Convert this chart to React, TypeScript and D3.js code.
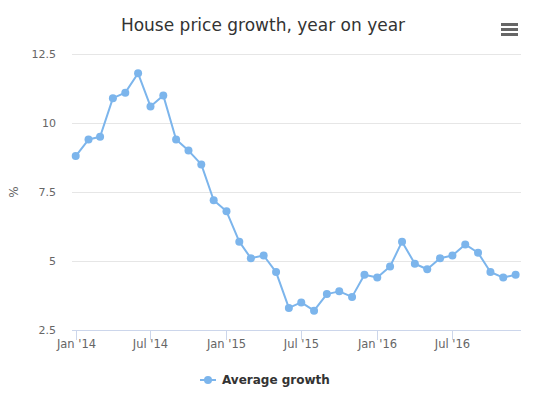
import React from "react";
import * as d3 from "d3";

const title = "House price growth, year on year";
const seriesName = "Average growth";
const startYear = 2014;
const values = [
  8.8, 9.4, 9.5, 10.9, 11.1, 11.8, 10.6, 11.0, 9.4, 9.0, 8.5, 7.2,
  6.8, 5.7, 5.1, 5.2, 4.6, 3.3, 3.5, 3.2, 3.8, 3.9, 3.7, 4.5,
  4.4, 4.8, 5.7, 4.9, 4.7, 5.1, 5.2, 5.6, 5.3, 4.6, 4.4, 4.5,
];
const yTicks = [2.5, 5, 7.5, 10, 12.5];
const xTickLabels = ["Jan '14", "Jul '14", "Jan '15", "Jul '15", "Jan '16", "Jul '16"];
const xTickDates = [
  [2014, 0], [2014, 6], [2015, 0], [2015, 6], [2016, 0], [2016, 6],
];

const FONT = "'DejaVu Sans', Verdana, sans-serif";
const COLOR = "#7cb5ec";

export default function App() {
  const W = 542, H = 395;
  const left = 72, right = 521, top = 54, bottom = 330;
  const data = values.map((v, i) => ({ date: new Date(Date.UTC(startYear, i, 1)), v }));
  const x = d3.scaleUtc()
    .domain([new Date(Date.UTC(2013, 11, 23)), new Date(Date.UTC(2016, 11, 14))])
    .range([left, right]);
  const y = d3.scaleLinear().domain([2.5, 12.5]).range([bottom, top]);
  const line = d3.line<{ date: Date; v: number }>().x(d => x(d.date)).y(d => y(d.v));

  return (
    <svg width={W} height={H} style={{ position: "absolute", left: 0, top: 0, background: "#fff" }} fontFamily={FONT}>
      <rect width={W} height={H} fill="#fff" />
      <text x={263} y={31} textAnchor="middle" fontSize={17} fill="#333333">{title}</text>
      <g stroke="#666666" strokeWidth={3}>
        {[24.5, 29.5, 34.5].map(yy => <line key={yy} x1={501} x2={518} y1={yy} y2={yy} />)}
      </g>
      {yTicks.map(t => (
        <g key={t}>
          {t !== 2.5 && <line x1={left} x2={right} y1={Math.round(y(t)) + 0.5} y2={Math.round(y(t)) + 0.5} stroke="#e6e6e6" />}
          <text x={56} y={y(t)} dy="0.35em" textAnchor="end" fontSize={11} fill="#666666">{t}</text>
        </g>
      ))}
      <text transform={`translate(18,${(top + bottom) / 2}) rotate(-90)`} textAnchor="middle" fontSize={12} fill="#666666">%</text>
      <line x1={left} x2={right} y1={bottom + 0.5} y2={bottom + 0.5} stroke="#ccd6eb" />
      {xTickDates.map(([yr, m], i) => {
        const xx = Math.round(x(new Date(Date.UTC(yr, m, 1)))) + 0.5;
        return (
          <g key={i}>
            <line x1={xx} x2={xx} y1={bottom} y2={bottom + 10} stroke="#ccd6eb" />
            <text x={xx} y={348} textAnchor="middle" fontSize={11.5} fill="#666666">{xTickLabels[i]}</text>
          </g>
        );
      })}
      <path d={line(data) || ""} fill="none" stroke={COLOR} strokeWidth={2} strokeLinejoin="round" />
      {data.map((d, i) => (
        <circle key={i} cx={x(d.date)} cy={y(d.v)} r={4} fill={COLOR} />
      ))}
      <g>
        <line x1={200} x2={216} y1={380} y2={380} stroke={COLOR} strokeWidth={2} />
        <circle cx={208} cy={380} r={4} fill={COLOR} />
        <text x={222} y={384} fontSize={12} fontWeight="bold" fill="#333333">{seriesName}</text>
      </g>
      <text x={532} y={402} textAnchor="end" fontSize={9} fill="#999999">Highcharts.com</text>
    </svg>
  );
}
